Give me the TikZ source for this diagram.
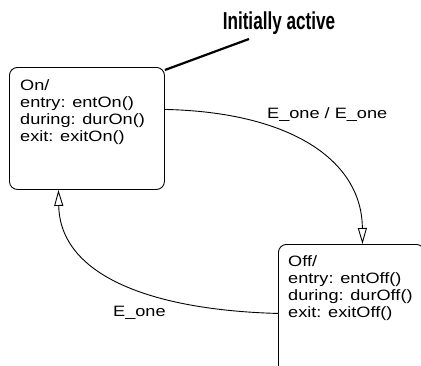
\documentclass[tikz,border=0pt]{standalone}
\usepackage{fontspec}
\setmainfont[FakeStretch=1.21]{Liberation Sans}
\newfontfamily\headfont[FakeStretch=0.7]{Liberation Sans}
\usetikzlibrary{arrows.meta}

\begin{document}
\begin{tikzpicture}[
    x=1pt, y=-1pt,
    state/.style={draw, rounded corners=8pt, line width=0.9pt, inner sep=0pt},
    lines/.style={align=left, inner sep=0pt, font=\fontsize{15}{17}\selectfont},
    lbl/.style={inner sep=0pt, font=\fontsize{15}{17}\selectfont},
    trans/.style={line width=0.9pt, -{Triangle[open, length=16pt, width=9pt]}}
]

\useasboundingbox (0,0) rectangle (421,365);
\clip (0,0) rectangle (421,365);

% Zustand On
\node[state, minimum width=155pt, minimum height=122pt, anchor=north west] (on) at (9,67) {};
\node[lines, anchor=north west] (ontext) at (20,79.5) {On/\\entry: entOn()\\during: durOn()\\exit: exitOn()};

% Zustand Off
\node[state, minimum width=146pt, minimum height=160pt, anchor=north west] (off) at (278,244) {};
\node[lines, anchor=north west] (offtext) at (288,255.5) {Off/\\entry: entOff()\\during: durOff()\\exit: exitOff()};

% Anfangszustand
\node[font=\headfont\bfseries\fontsize{24.5}{24.5}\selectfont, anchor=base] (initlabel) at (279,29) {Initially active};
\coordinate (initend) at (249,39);
\draw[line width=2.2pt] (initend) -- ([yshift=-3pt]on.north east);

% Uebergaenge
\draw[trans] ([yshift=19pt]on.east) .. controls (290,112) and (362,160) .. ([xshift=11pt]off.north);
\node[lbl, anchor=base west] (lblonoff) at (267,118) {E\_one / E\_one};

\draw[trans] ([yshift=11pt]off.west) .. controls (150,310) and (60,275) .. ([xshift=-28.5pt]on.south);
\node[lbl, anchor=base west] (lbloffon) at (113,316) {E\_one};

\end{tikzpicture}
\end{document}
